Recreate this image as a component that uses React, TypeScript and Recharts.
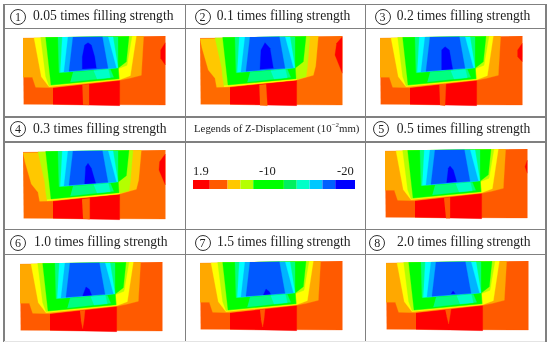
import React from 'react';
import { ScatterChart, Scatter, XAxis, YAxis, BarChart, Bar } from 'recharts';

type Pt = [number, number];

const SERIF = '"Liberation Serif", serif';
const LINE = '#808080';

// contour colours
const RED = '#ff0000';
const ORANGE_RED = '#ff5a00';
const ORANGE_LIGHT = '#ff6a00';
const ORANGE = '#ffa800';
const GOLD = '#ffc800';
const YELLOW = '#ffff00';
const LIME = '#b4ff00';
const GREEN = '#00ff00';
const SPRING = '#00ff80';
const AQUA = '#00ffc8';
const CYAN = '#00ffff';
const SKY = '#00b4ff';
const BLUE = '#0058ff';
const DEEP = '#0000ff';

const titles = [
  '0.05 times filling strength',
  '0.1 times filling strength',
  '0.2 times filling strength',
  '0.3 times filling strength',
  '0.5 times filling strength',
  '1.0 times filling strength',
  '1.5 times filling strength',
  '2.0 times filling strength',
];
const circled = ['1', '2', '3', '4', '5', '6', '7', '8'];

// contour outlines (plot units, 3 per pixel)
const outline: Pt[] = [[0, 7], [427, 0], [427, 207], [2, 205]];
const redFloor: Pt[] = [[90, 152], [290, 132], [290, 209], [90, 205]];

const orangeBand: Pt[] = [[0, 7], [362, 0], [355, 118], [320, 127], [290, 133], [88, 155], [38, 154], [28, 124], [0, 124]];
const yellowBand: Pt[] = [[33, 5], [55, 122], [78, 152], [290, 131], [322, 119], [340, 0]];
const limeBand: Pt[] = [[53, 4], [68, 122], [78, 149], [290, 129], [286, 98], [312, 88], [327, 1]];

const goldBandB: Pt[] = [[0, 9], [355, 0], [347, 90], [340, 118], [290, 132], [88, 153], [50, 154], [45, 127], [25, 102], [5, 32]];
const yellowEdgeB: Pt[] = [[72, 152], [290, 132], [290, 129], [72, 149]];
const limeBandB: Pt[] = [[45, 5], [65, 95], [68, 125], [72, 150], [290, 130], [318, 122], [322, 95], [330, 1]];

const greenBand: Pt[] = [[68, 4], [84, 147], [288, 128], [286, 96], [310, 77], [318, 1]];
const springFan: Pt[] = [[105, 3], [108, 110], [285, 96], [285, 2]];
const cyanFan: Pt[] = [[118, 3], [112, 109], [285, 95], [270, 2]];
const skyFan: Pt[] = [[135, 3], [123, 108], [280, 96], [255, 2]];
const blueFan: Pt[] = [[150, 3], [138, 106], [255, 97], [238, 2]];
const springStripe: Pt[] = [[150, 109], [262, 100], [272, 124], [142, 138]];
const aquaStripe: Pt[] = [[212, 104], [256, 100], [262, 125], [222, 129]];

const blobs: Pt[][] = [
  [[178, 99], [178, 62], [185, 27], [195, 20], [205, 27], [215, 62], [220, 97]],
  [[180, 100], [183, 42], [195, 20], [210, 37], [220, 97]],
  [[185, 102], [185, 42], [195, 32], [208, 42], [218, 100]],
  [[185, 102], [188, 50], [195, 40], [205, 55], [218, 100]],
  [[185, 101], [190, 58], [195, 51], [205, 63], [215, 98]],
  [[188, 102], [198, 75], [208, 82], [215, 100]],
  [[190, 102], [198, 84], [208, 92], [212, 100]],
  [[195, 99], [201, 90], [208, 98]],
];

const strips: Pt[][] = [
  [[178, 147], [198, 145], [198, 207], [180, 206]],
  [[178, 147], [198, 145], [202, 209], [180, 208]],
  [[178, 147], [198, 142], [195, 209], [180, 207]],
  [[177, 148], [200, 145], [200, 208], [180, 206]],
  [[177, 148], [195, 145], [195, 208], [183, 208]],
  [[180, 147], [195, 145], [192, 175], [188, 200], [183, 175]],
  [[180, 147], [195, 145], [192, 175], [188, 198], [183, 175]],
  [[178, 147], [195, 144], [192, 165], [188, 189], [182, 165]],
];

const rightSpots: Pt[][] = [
  [[427, 20], [413, 42], [413, 67], [427, 87]],
  [[427, 2], [410, 22], [405, 57], [427, 112]],
  [[427, 22], [413, 42], [413, 62], [427, 77]],
  [[427, 12], [410, 35], [408, 60], [427, 105]],
  [[427, 33], [420, 53], [427, 73]],
  [],
  [],
  [],
];

// panel 2 and 4 have the wide gold band instead of orange / yellow
const wideGold = [false, true, false, true, false, false, false, false];

const plotLeft = [23.3, 200, 380, 23.3, 385, 20, 200, 385.7];
const plotTop = [36, 36, 36, 150, 149, 261.7, 261, 261];
const circleX = [17.5, 202, 382, 17.5, 380.7, 17.5, 202, 376.7];
const circleY = [16, 16, 16, 128, 128, 242, 242, 242];
const titleX = [33, 216.7, 396.7, 33, 396.7, 34, 217, 397];
const titleY = [16, 16, 16, 129, 129, 242, 242, 242];

// legend
const legendKeys = ['a', 'b', 'c', 'd', 'e', 'f', 'g', 'h', 'i', 'j'];
const legendWidths = [17, 18, 13, 13, 31, 13, 13, 13, 13, 20];
const legendColors = [RED, ORANGE_RED, GOLD, LIME, GREEN, '#00f060', AQUA, '#00c8ff', '#0060ff', DEEP];
const legendRow: Record<string, number | string> = { name: 'levels' };
legendKeys.forEach((k, i) => { legendRow[k] = legendWidths[i]; });

const gridX = [3.5, 185, 365, 545.5];
const gridY = [4, 28, 116.5, 141.5, 229, 254];

const toRows = (pts: Pt[]) => pts.map(([x, y]) => ({ x, y }));

const Region = (pts: Pt[], color: string, key: string) => (
  <Scatter
    key={key}
    data={toRows(pts)}
    isAnimationActive={false}
    shape={() => <g />}
    line={{ fill: color, stroke: color, strokeWidth: 0.3 }}
    lineType="joint"
    legendType="none"
  />
);

const Panel = ({ i }: { i: number }) => {
  const layers: [Pt[], string][] = [
    [outline, wideGold[i] ? ORANGE_LIGHT : ORANGE_RED],
    [redFloor, RED],
    [strips[i], wideGold[i] ? ORANGE_LIGHT : ORANGE_RED],
    ...(rightSpots[i].length ? ([[rightSpots[i], RED]] as [Pt[], string][]) : []),
    ...(wideGold[i]
      ? ([[goldBandB, GOLD], [limeBandB, LIME], [yellowEdgeB, YELLOW]] as [Pt[], string][])
      : ([[orangeBand, ORANGE], [yellowBand, YELLOW], [limeBand, LIME]] as [Pt[], string][])),
    [greenBand, GREEN],
    [springFan, SPRING],
    [springStripe, SPRING],
    [aquaStripe, AQUA],
    [cyanFan, CYAN],
    [skyFan, SKY],
    [blueFan, BLUE],
    [blobs[i], DEEP],
  ];
  return (
    <div style={{ position: 'absolute', left: plotLeft[i], top: plotTop[i] }}>
      <ScatterChart width={150} height={75} margin={{ top: 0, right: 0, bottom: 0, left: 0 }}>
        <XAxis type="number" dataKey="x" domain={[0, 450]} hide />
        <YAxis type="number" dataKey="y" domain={[0, 225]} reversed hide />
        {layers.map(([pts, color], n) => Region(pts, color, `${i}-${n}`))}
      </ScatterChart>
    </div>
  );
};

const App = () => {
  return (
    <div style={{ position: 'absolute', left: 0, top: 0, width: 550, height: 347, background: '#fff', fontFamily: SERIF, color: '#222', overflow: 'hidden', filter: 'blur(0.3px)' }}>
      {gridX.map((x) => (
        <div key={x} style={{ position: 'absolute', left: x - 0.5, top: 4, width: 1.5, height: 338, background: LINE }} />
      ))}
      {gridY.map((y) => (
        <div key={y} style={{ position: 'absolute', left: 3, top: y - 0.5, width: 543, height: 1.5, background: LINE }} />
      ))}
      <div style={{ position: 'absolute', left: 4, top: 341, width: 541, height: 1, background: '#e4e4e4' }} />

      {titles.map((t, i) => (
        <React.Fragment key={t}>
          <div style={{ position: 'absolute', left: circleX[i] - 7.5, top: circleY[i] - 7.5, width: 14, height: 14, border: '1px solid #333', borderRadius: '50%', fontSize: 12, lineHeight: '14px', textAlign: 'center' }}>
            {circled[i]}
          </div>
          <div style={{ position: 'absolute', left: titleX[i], top: titleY[i] - 9, fontSize: 13.6, lineHeight: '18px', whiteSpace: 'nowrap' }}>{t}</div>
          <Panel i={i} />
        </React.Fragment>
      ))}

      <div style={{ position: 'absolute', left: 194, top: 120, fontSize: 10.8, lineHeight: '16px', whiteSpace: 'nowrap' }}>
        Legends of Z-Displacement (10<sup style={{ fontSize: 7, lineHeight: 0 }}>−2</sup>mm)
      </div>
      <div style={{ position: 'absolute', left: 193, top: 164, fontSize: 12.5, lineHeight: '14px' }}>1.9</div>
      <div style={{ position: 'absolute', left: 259, top: 164, fontSize: 12.5, lineHeight: '14px' }}>-10</div>
      <div style={{ position: 'absolute', left: 337, top: 164, fontSize: 12.5, lineHeight: '14px' }}>-20</div>
      <div style={{ position: 'absolute', left: 193, top: 180 }}>
        <BarChart width={162} height={9} layout="vertical" data={[legendRow]} margin={{ top: 0, right: 0, bottom: 0, left: 0 }} barCategoryGap={0}>
          <XAxis type="number" domain={[0, 164]} hide />
          <YAxis type="category" dataKey="name" hide />
          {legendKeys.map((k, i) => (
            <Bar key={k} dataKey={k} stackId="levels" fill={legendColors[i]} isAnimationActive={false} />
          ))}
        </BarChart>
      </div>
    </div>
  );
};

export default App;
